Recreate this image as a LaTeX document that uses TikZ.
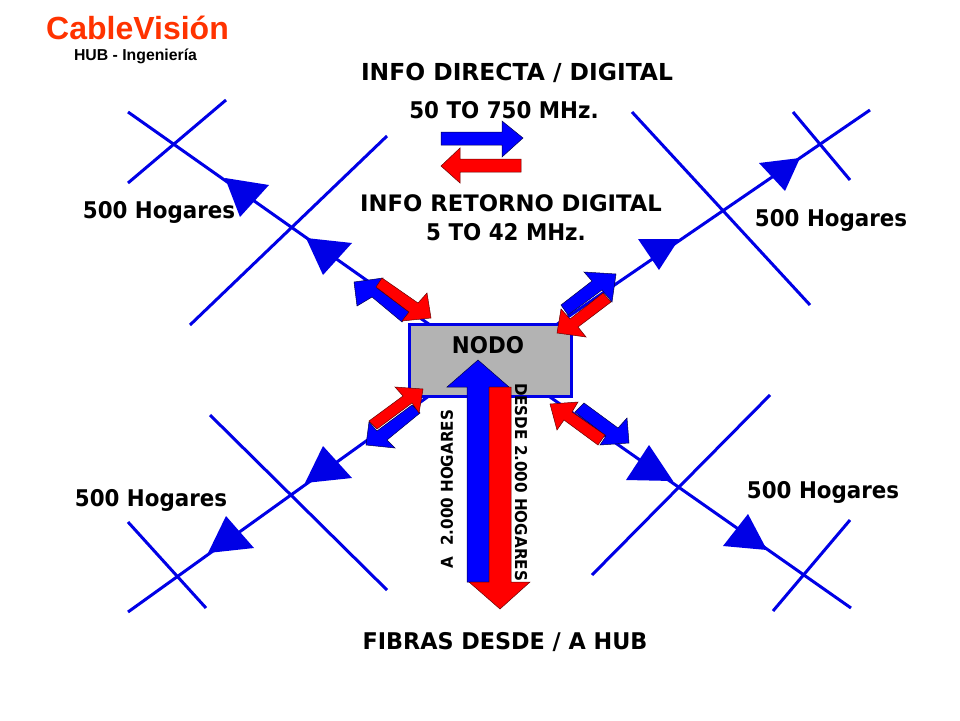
\documentclass[tikz,border=0pt]{standalone}
\usepackage{fontspec}
\setmainfont{Liberation Sans}
\newfontfamily\lab[FakeStretch=0.93]{DejaVu Sans Bold}
\newfontfamily\labm[FakeStretch=0.97]{DejaVu Sans Bold}
\newfontfamily\labw[FakeStretch=1.0]{DejaVu Sans Bold}
\definecolor{netblue}{RGB}{0,0,230}
\definecolor{fillblue}{RGB}{0,0,255}
\definecolor{fillred}{RGB}{255,0,0}
\definecolor{brand}{RGB}{255,51,0}
\definecolor{nodegray}{RGB}{179,179,179}
\tikzset{
  net/.style={draw=netblue,line width=3pt},
  tri/.style={fill=netblue,draw=none},
  bluearrow/.style={fill=fillblue,draw=black!70!blue,line width=0.5pt,line join=miter},
  redarrow/.style={fill=fillred,draw=black!60!red,line width=0.5pt,line join=miter},
  labeltext/.style={font=\lab\fontsize{23}{27}\selectfont,text=black,inner sep=0pt,align=center},
  vtext/.style={font=\lab\fontsize{16.3}{19}\selectfont,text=black,inner sep=0pt},
}
\begin{document}
\begin{tikzpicture}[x=1pt,y=-1pt]
\useasboundingbox (0,0) rectangle (960,720);
\fill[white] (0,0) rectangle (960,720);
% end points
\coordinate (tlA) at (128,112); \coordinate (tlB) at (440,332);
\coordinate (trA) at (870,110); \coordinate (trB) at (540,336);
\coordinate (blA) at (128,612); \coordinate (blB) at (440,388);
\coordinate (brA) at (851,608); \coordinate (brB) at (540,390);
\coordinate (c1a) at (128,183); \coordinate (c1b) at (226,100);
\coordinate (c2a) at (190,325); \coordinate (c2b) at (387,136);
\coordinate (c3a) at (632,112); \coordinate (c3b) at (810,305);
\coordinate (c4a) at (793,112); \coordinate (c4b) at (850,180);
\coordinate (c5a) at (210,415); \coordinate (c5b) at (387,590);
\coordinate (c6a) at (128,522); \coordinate (c6b) at (206,608);
\coordinate (c7a) at (770,395); \coordinate (c7b) at (592,575);
\coordinate (c8a) at (850,520); \coordinate (c8b) at (773,611);
\foreach \p/\q in {tlA/tlB,trA/trB,blA/blB,brA/brB,c1a/c1b,c2a/c2b,c3a/c3b,c4a/c4b,c5a/c5b,c6a/c6b,c7a/c7b,c8a/c8b}
  \draw[net] (\p) -- (\q);
% triangles
\fill[tri] (225,178) -- (269,185) -- (240,217) -- cycle;
\fill[tri] (306,238) -- (352,243) -- (323,275) -- cycle;
\fill[tri] (638,239) -- (679,239) -- (659,270) -- cycle;
\fill[tri] (759,163) -- (800,158) -- (785,191) -- cycle;
\fill[tri] (323,446) -- (352,478) -- (305,483) -- cycle;
\fill[tri] (226,516) -- (254,548) -- (208,553) -- cycle;
\fill[tri] (649,445) -- (673,481) -- (626,480) -- cycle;
\fill[tri] (748,514) -- (767,550) -- (723,546) -- cycle;
% node
\node[draw=netblue,line width=3pt,fill=nodegray,minimum width=161.5pt,minimum height=71.5pt,inner sep=0pt,anchor=north west] (nodo) at (408,323) {};
\node[labeltext] (nodotxt) at (488,345) {NODO};
% small block arrows
\filldraw[bluearrow] (354,282) -- (383,278) -- (377,288) -- (409,312) -- (402,322) -- (372,297) -- (357,306) -- cycle;
\filldraw[redarrow] (382,278) -- (418,303) -- (427,293) -- (431,318) -- (402,321) -- (409,312) -- (376,287) -- cycle;
\filldraw[bluearrow] (616,274) -- (584,272) -- (592,281) -- (561,305) -- (568,315) -- (602,290) -- (612,302) -- cycle;
\filldraw[redarrow] (557,333) -- (586,337) -- (578,327) -- (611,302) -- (603,293) -- (570,319) -- (561,309) -- cycle;
\filldraw[bluearrow] (366,445) -- (395,448) -- (387,440) -- (420,413) -- (412,405) -- (377,431) -- (369,422) -- cycle;
\filldraw[redarrow] (423,389) -- (395,387) -- (403,396) -- (369,421) -- (377,429) -- (412,403) -- (419,413) -- cycle;
\filldraw[bluearrow] (584,403) -- (618,428) -- (627,418) -- (629,443) -- (600,445) -- (606,436) -- (575,412) -- cycle;
\filldraw[redarrow] (550,404) -- (578,402) -- (572,412) -- (605,435) -- (598,445) -- (564,420) -- (557,430) -- cycle;
% fibre arrows
\filldraw[bluearrow] (478,360) -- (509,387) -- (489,387) -- (489,582) -- (467,582) -- (467,387) -- (447,387) -- cycle;
\filldraw[redarrow] (489,387) -- (511,387) -- (511,582) -- (530,582) -- (500,609) -- (469,582) -- (489,582) -- cycle;
% legend arrows
\filldraw[bluearrow] (441,132) -- (502,132) -- (502,121) -- (523,138) -- (502,157) -- (502,145) -- (441,145) -- cycle;
\filldraw[redarrow] (441,166) -- (460,148) -- (460,159) -- (521,159) -- (521,172) -- (460,172) -- (460,183) -- cycle;
% text
\node[font=\bfseries\fontsize{32}{35}\selectfont,text=brand,inner sep=0pt] (brandname) at (137.5,28) {CableVisión};
\node[font=\bfseries\fontsize{15.8}{18}\selectfont,text=black,inner sep=0pt] (sub) at (135.5,56) {HUB - Ingeniería};
\node[labeltext,font=\labw\fontsize{23.4}{27}\selectfont] (t1) at (517,73) {INFO DIRECTA / DIGITAL};
\node[labeltext] (t2) at (504,110) {50 TO 750 MHz.};
\node[labeltext,font=\labw\fontsize{22.7}{27}\selectfont] (t3) at (511,203) {INFO RETORNO DIGITAL};
\node[labeltext] (t3b) at (506,232) {5 TO 42 MHz.};
\node[labeltext] (h1) at (159,212) {500 Hogares};
\node[labeltext] (h2) at (831,220) {500 Hogares};
\node[labeltext] (h3) at (151,500) {500 Hogares};
\node[labeltext] (h4) at (823,492) {500 Hogares};
\node[labeltext,font=\labm\fontsize{23}{27}\selectfont] (t4) at (505,642) {FIBRAS DESDE / A HUB};
\node[vtext,rotate=90] (v1) at (447,489) {A\ \ 2.000 HOGARES};
\node[vtext,rotate=-90] (v2) at (521,482) {DESDE 2.000 HOGARES};
\end{tikzpicture}
\end{document}
